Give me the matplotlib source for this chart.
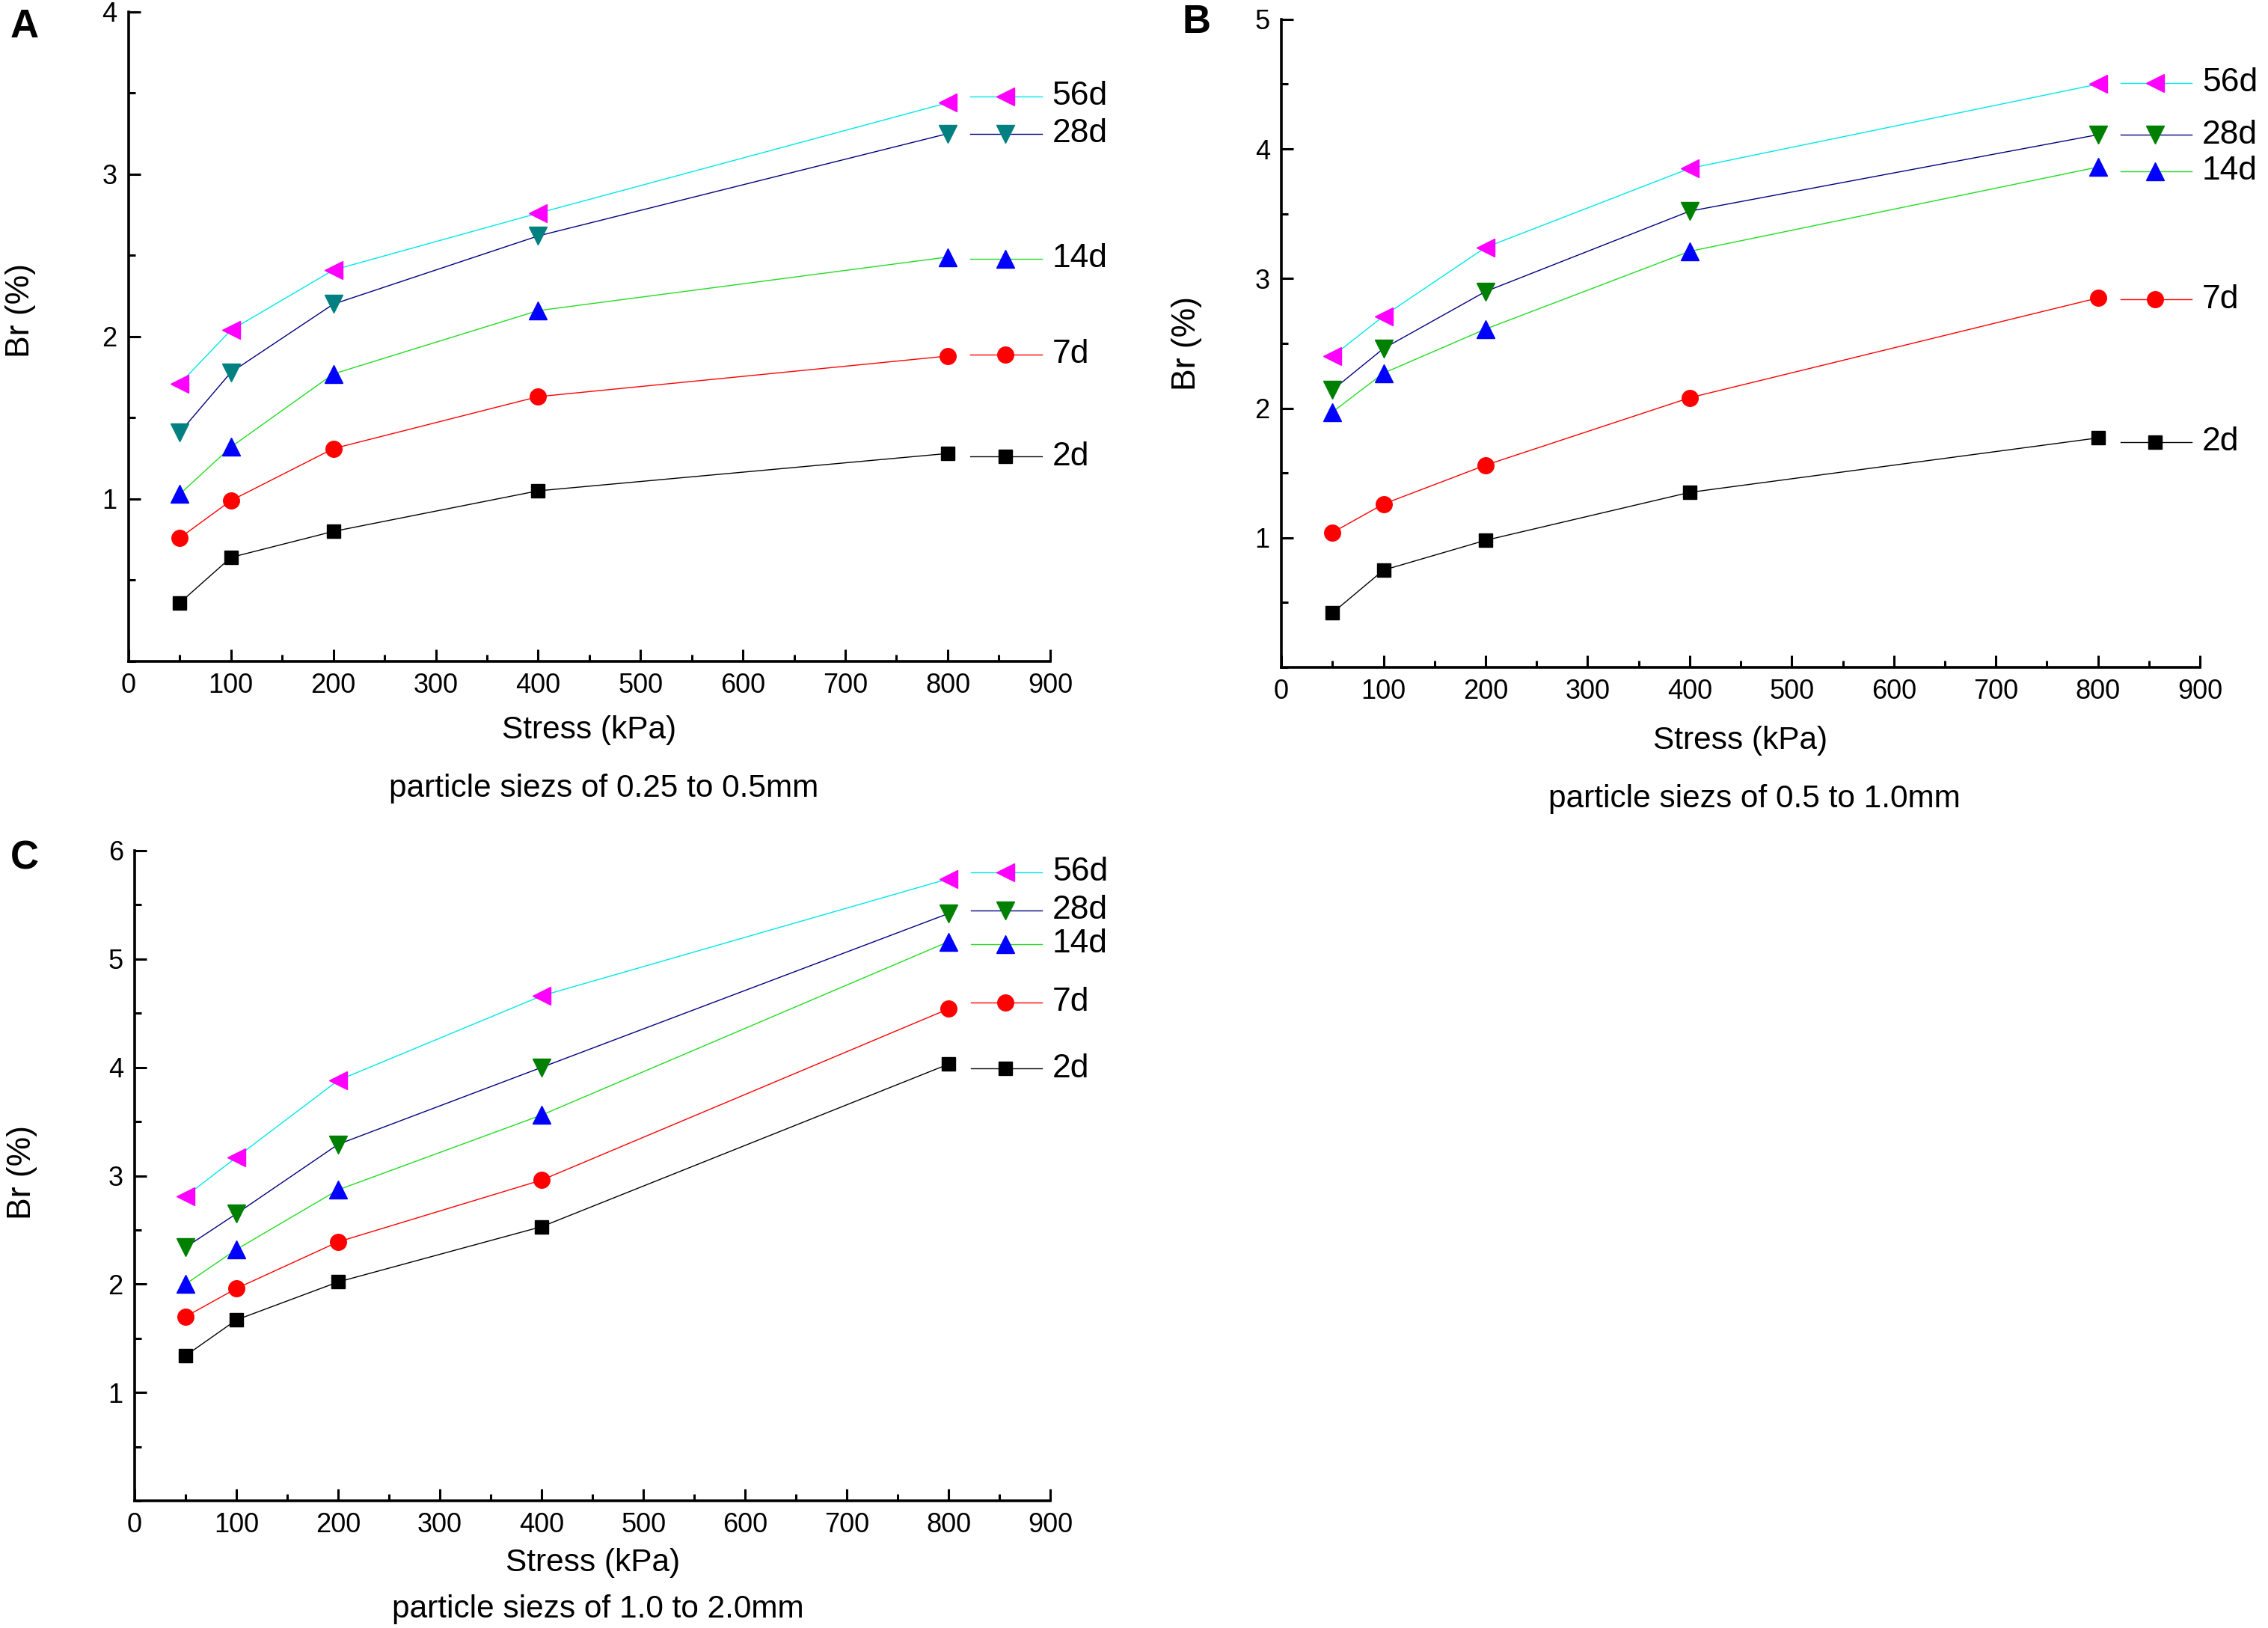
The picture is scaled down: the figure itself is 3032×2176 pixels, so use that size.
import matplotlib
matplotlib.use("Agg")
import matplotlib.pyplot as plt
from matplotlib.ticker import MultipleLocator, FixedLocator

plt.rcParams['font.family'] = ['Liberation Sans', 'DejaVu Sans']

# ---------------- data ----------------
stress = [50, 100, 200, 400, 800]
ages = ['2d', '7d', '14d', '28d', '56d']

# Panel A: particle sizes 0.25-0.5 mm
a_2d = [0.36, 0.64, 0.80, 1.05, 1.28]
a_7d = [0.76, 0.99, 1.31, 1.63, 1.88]
a_14d = [1.03, 1.32, 1.77, 2.16, 2.49]
a_28d = [1.41, 1.78, 2.20, 2.62, 3.25]
a_56d = [1.71, 2.04, 2.41, 2.76, 3.44]

# Panel B: particle sizes 0.5-1.0 mm
b_2d = [0.42, 0.75, 0.98, 1.35, 1.77]
b_7d = [1.04, 1.26, 1.56, 2.08, 2.85]
b_14d = [1.97, 2.27, 2.61, 3.21, 3.86]
b_28d = [2.14, 2.46, 2.90, 3.52, 4.11]
b_56d = [2.40, 2.71, 3.24, 3.85, 4.50]

# Panel C: particle sizes 1.0-2.0 mm
c_2d = [1.34, 1.67, 2.02, 2.53, 4.03]
c_7d = [1.70, 1.96, 2.39, 2.96, 4.54]
c_14d = [2.00, 2.32, 2.87, 3.56, 5.16]
c_28d = [2.34, 2.65, 3.29, 4.00, 5.42]
c_56d = [2.81, 3.17, 3.88, 4.66, 5.74]

subtitles = ['particle siezs of 0.25 to 0.5mm',
             'particle siezs of 0.5 to 1.0mm',
             'particle siezs of 1.0 to 2.0mm']
panel_letters = ['A', 'B', 'C']
y_max = [4, 5, 6]
x_ticks = [0, 100, 200, 300, 400, 500, 600, 700, 800, 900]

# vertical positions (data units) of the in-plot series labels
label_y_a = [1.26, 1.89, 2.48, 3.25, 3.48]
label_y_b = [1.74, 2.84, 3.83, 4.11, 4.51]
label_y_c = [3.99, 4.60, 5.14, 5.45, 5.80]

# ---------------- styles ----------------
markers = ['s', 'o', '^', 'v', '<']
msizes = [13.5, 15.5, 17, 17, 17]
line_colors = ['#000000', '#FF0000', '#22DD22', '#000080', '#00E8E8']
marker_colors_a = ['#000000', '#FF0000', '#0000FF', '#008080', '#FF00FF']
marker_colors_bc = ['#000000', '#FF0000', '#0000FF', '#008000', '#FF00FF']

panels = [
    dict(series=[a_2d, a_7d, a_14d, a_28d, a_56d], label_y=label_y_a,
         mcol=marker_colors_a,
         rect=[0.0567, 0.5938, 0.4063, 0.3989],
         ylab=(-0.117, 0.54), xlab=-0.106, sub=(0.516, -0.196),
         letter=(14 / 3032, 1 - 36 / 2176)),
    dict(series=[b_2d, b_7d, b_14d, b_28d, b_56d], label_y=label_y_b,
         mcol=marker_colors_bc,
         rect=[0.5650, 0.5901, 0.4050, 0.3980],
         ylab=(-0.103, 0.50), xlab=-0.113, sub=(0.515, -0.203),
         letter=(1580 / 3032, 1 - 30 / 2176)),
    dict(series=[c_2d, c_7d, c_14d, c_28d, c_56d], label_y=label_y_c,
         mcol=marker_colors_bc,
         rect=[0.0594, 0.0781, 0.4037, 0.3994],
         ylab=(-0.123, 0.505), xlab=-0.0955, sub=(0.506, -0.167),
         letter=(14 / 3032, 1 - 1147 / 2176)),
]

fig = plt.figure(figsize=(30.32, 21.76), dpi=100)
fig.patch.set_facecolor('white')

for i, p in enumerate(panels):
    ax = fig.add_axes(p['rect'])
    for k, ys in enumerate(p['series']):
        ax.plot(stress, ys, color=line_colors[k], lw=1.0, marker=markers[k],
                ms=msizes[k], mfc=p['mcol'][k], mec=p['mcol'][k], zorder=3,
                clip_on=False)
        # series label (Origin-style legend entry)
        ly = p['label_y'][k]
        ax.plot([822, 892], [ly, ly], color=line_colors[k], lw=1.0,
                clip_on=False, zorder=3)
        ax.plot([856], [ly], marker=markers[k], ms=msizes[k],
                mfc=p['mcol'][k], mec=p['mcol'][k], ls='none',
                clip_on=False, zorder=4)
        ax.text(902, ly, ages[k], fontsize=32, va='center', ha='left',
                clip_on=False)

    ax.set_xlim(0, 900)
    ax.set_ylim(0, y_max[i])
    ax.xaxis.set_major_locator(FixedLocator(x_ticks))
    ax.xaxis.set_minor_locator(MultipleLocator(50))
    ax.yaxis.set_major_locator(FixedLocator(list(range(1, y_max[i] + 1))))
    ax.yaxis.set_minor_locator(MultipleLocator(0.5))
    ax.spines['top'].set_visible(False)
    ax.spines['right'].set_visible(False)
    for s in ('left', 'bottom'):
        ax.spines[s].set_linewidth(2.6)
    ax.tick_params(which='both', direction='in', width=2.2, labelsize=26,
                   pad=11)
    ax.tick_params(which='major', length=11.5)
    ax.tick_params(which='minor', length=6.5)

    ax.set_xlabel('Stress (kPa)', fontsize=30.5, va='center')
    ax.xaxis.set_label_coords(0.5, p['xlab'])
    ax.set_ylabel('Br (%)', fontsize=32, va='center')
    ax.yaxis.set_label_coords(*p['ylab'])
    ax.text(p['sub'][0], p['sub'][1], subtitles[i], transform=ax.transAxes,
            fontsize=30.5, ha='center', va='center')
    fig.text(p['letter'][0], p['letter'][1], panel_letters[i], fontsize=38,
             fontweight='bold', ha='left', va='center')

fig.savefig('out.png', dpi=100, facecolor='white')
